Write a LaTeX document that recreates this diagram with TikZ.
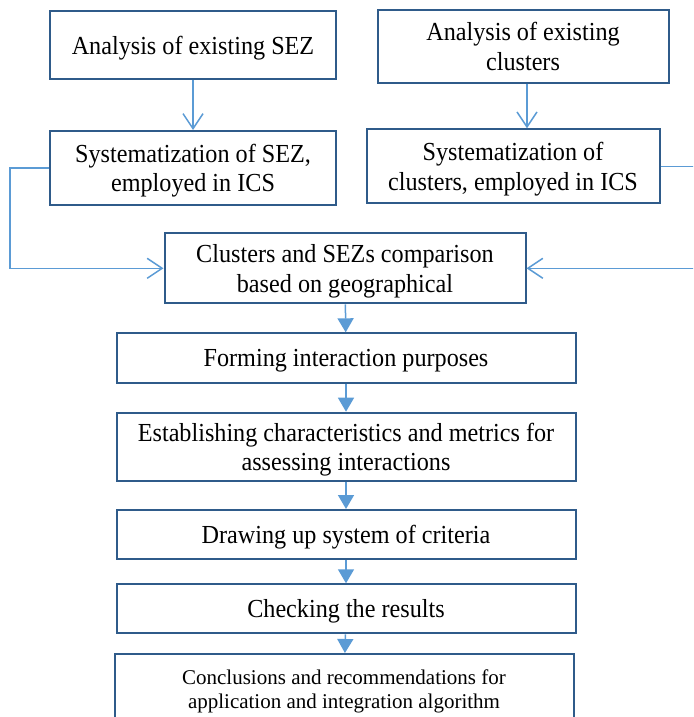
\documentclass[tikz,border=0pt]{standalone}
\usepackage{fontspec}
\setmainfont{Liberation Serif}[FakeStretch=0.93]
\newfontfamily\plainserif{Liberation Serif}
\usetikzlibrary{arrows.meta,positioning}

\definecolor{boxblue}{HTML}{2F5B8A}
\definecolor{linkblue}{HTML}{5B9BD5}

\tikzset{
  box/.style={draw=boxblue,line width=2pt,align=center,inner sep=2pt,text depth=0pt,
    font=\fontsize{26}{29.5}\selectfont},
  openarrow/.style={draw=linkblue,line width=1.5pt,-{Straight Barb[length=15pt,width=20pt]}},
  fillarrow/.style={draw=linkblue,line width=1.5pt,-{Triangle[length=14pt,width=16pt]}}
}

\begin{document}
\begin{tikzpicture}[x=1pt,y=1pt]
\useasboundingbox (0,0) rectangle (693,-717);
\clip (0,0) rectangle (693,-717);

% analysis and systematization
\node[box,minimum width=286,minimum height=68] (sez) at (193,-45) {Analysis of existing SEZ};
\node[box,minimum width=291,minimum height=72] (clu) at (523,-46.5) {Analysis of existing\\clusters};
\node[box,minimum width=286,minimum height=74,below=50pt of sez] (sezsys) {Systematization of SEZ,\\employed in ICS};
\node[box,minimum width=293,minimum height=74] (clusys) at (513,-166.3) {Systematization of\\clusters, employed in ICS};

\node[box,minimum width=361,minimum height=70] (cmp) at (345,-268.3) {Clusters and SEZs comparison\\based on geographical};

\draw[openarrow] (sez) -- (sezsys);
\draw[openarrow] ([xshift=4pt]clu.south) -- ([xshift=4pt]clu.south |- clusys.north);

\coordinate (lbend) at (10,0);
\coordinate (rbend) at (705,0);
\draw[openarrow] (sezsys.west) -- (sezsys.west -| lbend) |- (cmp.west);
\draw[openarrow] (clusys.east) -- (clusys.east -| rbend) |- (cmp.east);

% steps
\def\steps{1/358.3/50/{Forming interaction purposes},
  2/446.7/68/{Establishing characteristics and metrics for\\assessing interactions},
  3/534.5/49/{Drawing up system of criteria},
  4/608.8/49/{Checking the results}}
\foreach \i / \y / \h / \element in \steps
  \node[box,minimum width=459,minimum height=\h*1pt] (st\i) at (346,-\y) {\element};
\node[box,minimum width=459,minimum height=70,font=\plainserif\fontsize{21}{23.5}\selectfont] (st5) at (344,-689)
  {Conclusions and recommendations for\\application and integration algorithm};

\foreach \a / \b in {cmp/st1,st1/st2,st2/st3,st3/st4,st4/st5}
  \draw[fillarrow] (\a) -- (\b);

\end{tikzpicture}
\end{document}
